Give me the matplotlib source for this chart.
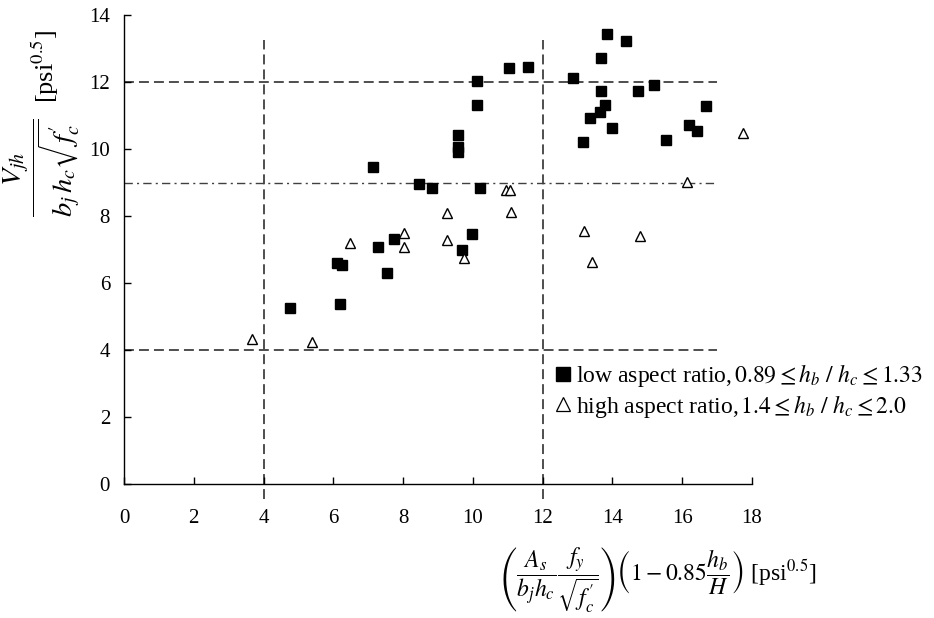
import matplotlib
matplotlib.use("Agg")
import matplotlib.pyplot as plt
from matplotlib.lines import Line2D

plt.rcParams['font.family'] = ['Liberation Serif', 'DejaVu Serif']
plt.rcParams['mathtext.fontset'] = 'stix'

# low aspect ratio (filled squares)
low_x = [4.76, 6.20, 6.11, 6.24, 7.55, 7.29, 7.74, 9.69, 9.98, 7.15, 8.46, 8.83,
         10.20, 9.56, 9.56, 9.56, 10.13, 10.13, 11.04, 11.57, 12.87, 13.83, 14.38,
         13.67, 13.67, 13.80, 13.63, 13.37, 13.17, 13.99, 14.72, 15.20, 15.54,
         16.20, 16.43, 16.68]
low_y = [5.24, 5.36, 6.59, 6.54, 6.29, 7.06, 7.30, 6.99, 7.46, 9.45, 8.96, 8.85,
         8.85, 10.42, 10.07, 9.92, 12.04, 11.31, 12.41, 12.44, 12.12, 13.42, 13.21,
         12.73, 11.72, 11.31, 11.11, 10.92, 10.22, 10.62, 11.72, 11.92, 10.26,
         10.71, 10.54, 11.27]

# high aspect ratio (open triangles)
high_x = [3.66, 5.40, 6.49, 8.02, 8.02, 9.27, 9.27, 9.74, 10.96, 11.06, 11.08,
          13.19, 13.40, 14.80, 16.15, 17.73]
high_y = [4.33, 4.25, 7.18, 7.48, 7.07, 8.08, 7.28, 6.74, 8.78, 8.78, 8.13,
          7.56, 6.64, 7.40, 9.02, 10.47]

x_ticks = [0, 2, 4, 6, 8, 10, 12, 14, 16, 18]
y_ticks = [0, 2, 4, 6, 8, 10, 12, 14]
h_dashed = [4, 12]
h_dashdot = [9]
v_dashed = [4, 12]

W, H = 934, 618
fig = plt.figure(figsize=(W / 100, H / 100), dpi=100)
ax = fig.add_axes([124 / W, 1 - 484 / H, (752 - 124) / W, (484 - 15) / H])

lc = '#404040'
for yv in h_dashed:
    ax.plot([0, 17], [yv, yv], color=lc, lw=1.3, dashes=(5.5, 2.8), zorder=1)
for yv in h_dashdot:
    ax.plot([0, 17], [yv, yv], color=lc, lw=1.0, dashes=(6, 3, 1.5, 3), zorder=1)
for xv in v_dashed:
    ax.plot([xv, xv], [-0.45, 13.25], color=lc, lw=1.3, dashes=(5.5, 2.8),
            zorder=1, clip_on=False)

ax.plot(low_x, low_y, linestyle='none', marker='s', ms=6.5, mfc='black',
        mec='black', zorder=3)
ax.plot(high_x, high_y, linestyle='none', marker='^', ms=6.5, mfc='white',
        mec='black', mew=1.0, zorder=3)

ax.set_xlim(0, 18)
ax.set_ylim(0, 14)
ax.set_xticks(x_ticks)
ax.set_yticks(y_ticks)
ax.spines['top'].set_visible(False)
ax.spines['right'].set_visible(False)
for s in ['left', 'bottom']:
    ax.spines[s].set_color('black')
    ax.spines[s].set_linewidth(1.0)
ax.tick_params(axis='x', direction='in', length=5, width=1.0, pad=18, labelsize=15)
ax.tick_params(axis='y', direction='in', length=5, width=1.0, pad=10, labelsize=15)

# legend
handles = [Line2D([], [], linestyle='none', marker='s', ms=10, mfc='black', mec='black'),
           Line2D([], [], linestyle='none', marker='^', ms=10, mfc='white', mec='black', mew=0.9)]
labels = [r'low aspect ratio,$\,0.89 \leq h_b\ /\ h_c \leq 1.33$',
          r'high aspect ratio,$\,1.4 \leq h_b\ /\ h_c \leq 2.0$']
fig.legend(handles, labels, loc='upper left', bbox_to_anchor=(556 / W, 1 - 362 / H),
           frameon=False, fontsize=17, handlelength=0.6, handletextpad=0.25,
           labelspacing=0.15, borderpad=0, borderaxespad=0)

# axis labels
fig.text(500 / W, 1 - 580 / H,
         r'$\left(\dfrac{A_s}{b_j h_c}\dfrac{f_y}{\sqrt{f_c^{\prime}}}\right)'
         r'\left(1-0.85\dfrac{h_b}{H}\right)$ [psi$^{0.5}$]',
         ha='left', va='center', fontsize=17)
fig.text(42 / W, 1 - 168 / H,
         r'$\dfrac{V_{jh}}{b_j\, h_c \sqrt{f_c^{\prime}}}$',
         ha='center', va='center', rotation=90, fontsize=20.5)
fig.text(45 / W, 1 - 66 / H, r'[psi$^{0.5}$]',
         ha='center', va='center', rotation=90, fontsize=19)

fig.savefig('out.png', dpi=100)
